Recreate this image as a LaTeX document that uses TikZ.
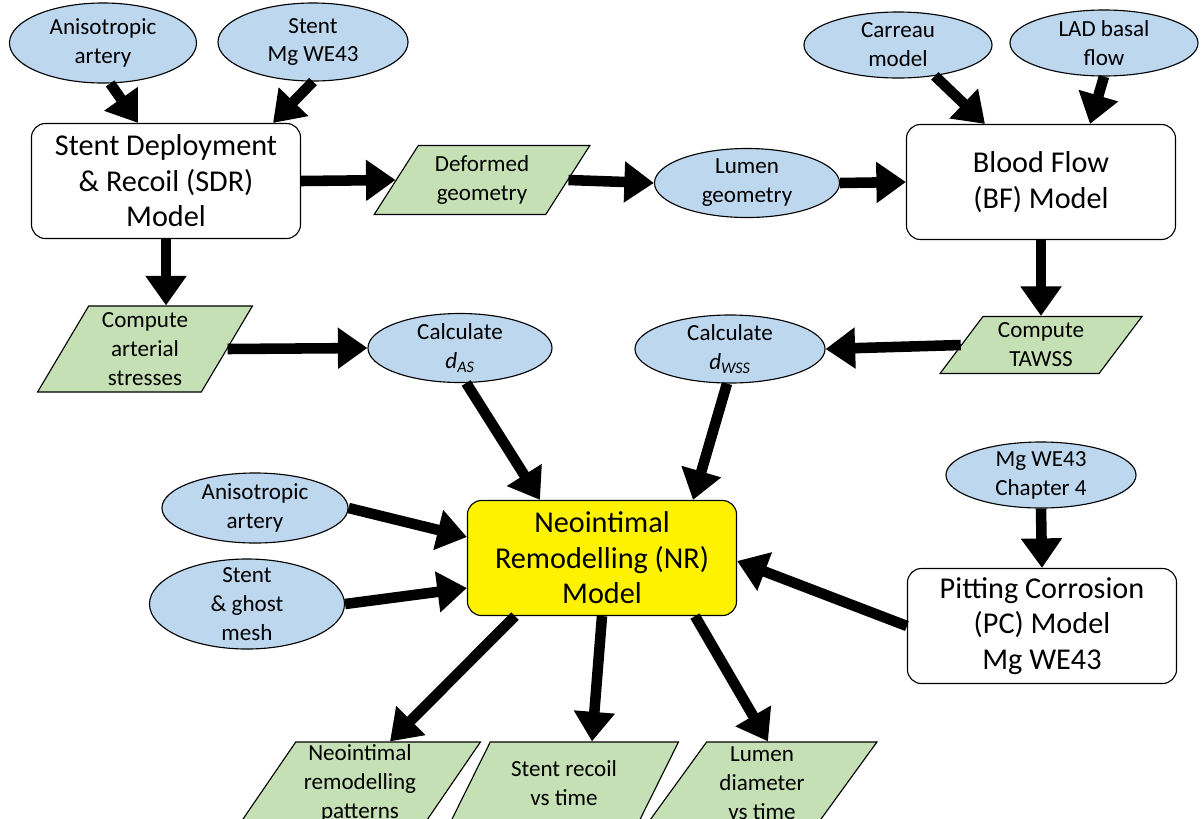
\documentclass[tikz,border=0pt]{standalone}
\usepackage{fontspec}
\setmainfont{Carlito}
\usetikzlibrary{shapes.geometric, arrows.meta, calc}
\definecolor{ovalblue}{RGB}{189,215,238}
\definecolor{datagreen}{RGB}{197,224,180}

\begin{document}
\begin{tikzpicture}[
    x=0.025cm, y=-0.025cm,
    oval/.style={draw=black, line width=0.8pt, ellipse, fill=ovalblue, minimum width=4.7cm, minimum height=1.7cm, inner xsep=0pt, inner ysep=-4pt, align=center, font=\fontsize{16.4}{20.6}\selectfont},
    model/.style={draw=black, line width=0.8pt, rectangle, rounded corners=10pt, fill=white, minimum width=6.725cm, minimum height=2.875cm, align=center, font=\fontsize{21.5}{25.3}\selectfont},
    data/.style={draw=black, line width=0.8pt, trapezium, trapezium left angle=58, trapezium right angle=122, trapezium stretches=true, fill=datagreen, inner sep=1pt, align=center, font=\fontsize{16.4}{20.6}\selectfont},
    flow/.style={-{Triangle[length=21pt, width=28pt]}, line width=7.5pt},
]
\useasboundingbox (0,0) rectangle (1204,818);

% SDR model and its inputs
\node[oval, minimum width=4.675cm, minimum height=2cm] (aa1) at (103,43) {Anisotropic\\artery};
\node[oval, minimum width=4.75cm, minimum height=1.95cm] (stent1) at (313,42) {Stent\\Mg WE43};
\node[model] (sdr) at (166,181) {Stent Deployment\\\& Recoil (SDR)\\Model};
\node[data, minimum width=5.4cm, minimum height=1.725cm, trapezium left angle=57, trapezium right angle=123] (deform) at (482,180) {Deformed\\geometry};
\node[data, minimum width=5.375cm, minimum height=2.15cm, trapezium left angle=62, trapezium right angle=118] (compart) at (145,349) {Compute\\arterial\\stresses};

% BF model and its inputs
\node[oval, minimum width=4.625cm, minimum height=1.725cm] (lumen) at (747,183) {Lumen\\geometry};
\node[oval, minimum height=1.65cm] (carreau) at (898,45) {Carreau\\model};
\node[oval, minimum height=1.65cm] (lad) at (1104,43) {LAD basal\\flow};
\node[model] (bf) at (1041,182) {Blood Flow\\(BF) Model};
\node[data, minimum width=5.05cm, minimum height=1.425cm, trapezium left angle=55, trapezium right angle=125] (tawss) at (1041,345) {Compute\\TAWSS};

% damage terms
\node[oval, minimum width=4.6cm, minimum height=1.725cm] (das) at (460,348) {Calculate\\\textit{d}\textsubscript{\textit{AS}}};
\node[oval, minimum width=4.75cm] (dwss) at (730,349) {Calculate\\\textit{d}\textsubscript{\textit{WSS}}};

% NR model
\node[model, fill=yellow] (nr) at (602,558) {Neointimal\\Remodelling (NR)\\Model};
\node[oval, minimum width=4.65cm, minimum height=1.75cm] (aa2) at (255,508) {Anisotropic\\artery};
\node[oval, minimum width=4.875cm, minimum height=2.25cm, inner ysep=-6pt] (sg) at (247,604) {Stent\\\& ghost\\mesh};

% PC model
\node[oval, minimum width=4.75cm, minimum height=1.65cm] (mgch) at (1041,475) {Mg WE43\\Chapter 4};
\node[model] (pc) at (1042,626) {Pitting Corrosion\\(PC) Model\\Mg WE43};

% outputs
\node[data, minimum width=6.025cm, minimum height=2.05cm] (npat) at (360,783) {Neointimal\\remodelling\\patterns};
\node[data, minimum width=5.725cm, minimum height=2.05cm] (srec) at (564,783) {Stent recoil\\vs time};
\node[data, minimum width=5.75cm, minimum height=2.05cm] (ldia) at (762,783) {Lumen\\diameter\\vs time};

% connectors
\draw[flow] (aa1.-80) -- ($(sdr.north)+(-28,0)$);
\draw[flow] (stent1.south) -- ($(sdr.north)+(107,0)$);
\draw[flow] (sdr.east) -- (deform.west);
\draw[flow] (deform.east) -- (lumen.west);
\draw[flow] (lumen.east) -- (bf.west);
\draw[flow] (carreau.-40) -- ($(bf.north)+(-56,0)$);
\draw[flow] (lad.south) -- ($(bf.north)+(49,0)$);
\draw[flow] (sdr.south) -- (sdr.south |- compart.north);
\draw[flow] (compart.east) -- (das.west);
\draw[flow] (bf.south) -- (bf.south |- tawss.north);
\draw[flow] (tawss.west) -- (dwss.east);
\draw[flow] (das.-80) -- ($(nr.north)+(-62,0)$);
\draw[flow] (dwss.-95) -- ($(nr.north)+(91,0)$);
\draw[flow] (aa2.east) -- ($(nr.west)+(0,-21)$);
\draw[flow] (sg.east) -- ($(nr.west)+(0,30)$);
\draw[flow] (mgch.south) -- (pc.north);
\draw[flow] (pc.west) -- ($(nr.east)+(0,3)$);
\draw[flow] ($(nr.south)+(-87,0)$) -- ($(npat.north)+(30,0)$);
\draw[flow] (nr.south) -- ($(srec.north)+(28,0)$);
\draw[flow] ($(nr.south)+(93,0)$) -- ($(ldia.north)+(6,0)$);

\end{tikzpicture}
\end{document}
